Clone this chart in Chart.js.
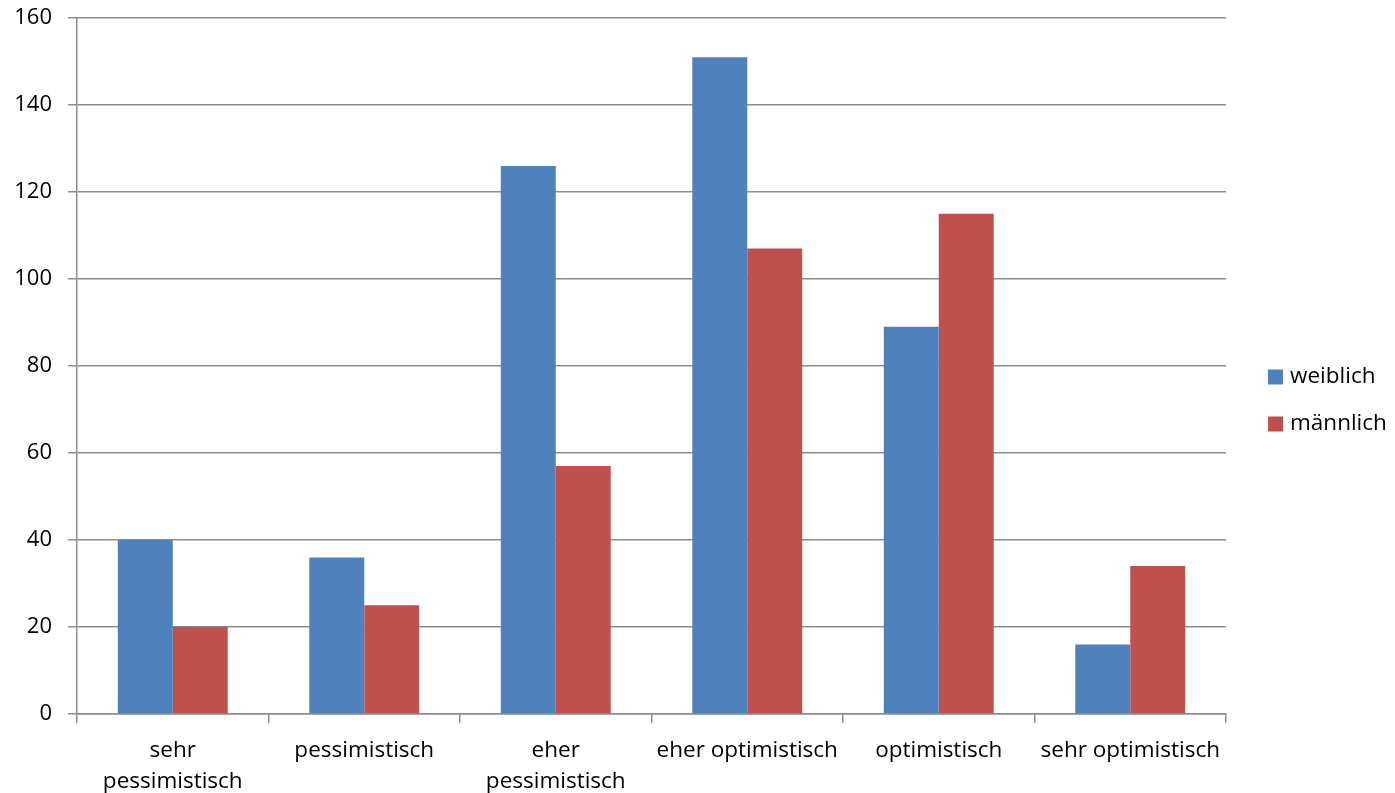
<!DOCTYPE html>
<html>
<head>
<meta charset="utf-8">
<script src="https://cdn.jsdelivr.net/npm/chart.js@4/dist/chart.umd.min.js"></script>
<style>
  html, body { margin: 0; padding: 0; background: #fff; }
  #wrap { width: 1395px; height: 793px; }
</style>
</head>
<body>
<div id="wrap"><canvas id="c" width="1395" height="793"></canvas></div>
<script>
const categories = [
  ["sehr", "pessimistisch"],
  "pessimistisch",
  ["eher", "pessimistisch"],
  "eher optimistisch",
  "optimistisch",
  "sehr optimistisch"
];
const seriesNames = ["weiblich", "männlich"];
const weiblich = [40, 36, 126, 151, 89, 16];
const maennlich = [20, 25, 57, 107, 115, 34];
const yTicks = [0, 20, 40, 60, 80, 100, 120, 140, 160];

const FONT = "'Open Sans', 'Liberation Sans', sans-serif";
const GRID = "#8c8c8c";

// legend drawn at the right of the plot, one square + label per series
const sideLegend = {
  id: "sideLegend",
  afterDraw(chart) {
    const ctx = chart.ctx;
    const ds = chart.data.datasets;
    const x0 = 1268, rowGap = 47;
    const yMid = 400;
    const yStart = yMid - (rowGap * (ds.length - 1)) / 2;
    ctx.save();
    ctx.font = "22.5px " + FONT;
    ctx.textBaseline = "middle";
    ds.forEach((d, i) => {
      const y = yStart + i * rowGap;
      ctx.fillStyle = d.backgroundColor;
      ctx.fillRect(x0, y - 7, 15, 15);
      ctx.fillStyle = "#000";
      ctx.fillText(d.label, x0 + 22, y);
    });
    ctx.restore();
  }
};

new Chart(document.getElementById("c"), {
  type: "bar",
  data: {
    labels: categories,
    datasets: [
      { label: seriesNames[0], data: weiblich, backgroundColor: "#4F81BD" },
      { label: seriesNames[1], data: maennlich, backgroundColor: "#C0504D" }
    ]
  },
  options: {
    responsive: false,
    animation: false,
    devicePixelRatio: 1,
    layout: { padding: { top: 0, right: 169, left: 0, bottom: 0 } },
    datasets: { bar: { categoryPercentage: 0.574, barPercentage: 1.0 } },
    plugins: { legend: { display: false }, tooltip: { enabled: false } },
    scales: {
      x: {
        offset: true,
        grid: { offset: true, drawOnChartArea: false, drawTicks: true, tickLength: 9, color: GRID, lineWidth: 1.5 },
        border: { color: GRID, width: 1.5 },
        ticks: { color: "#000", font: { family: FONT, size: 22.5, lineHeight: 1.38 }, padding: 12, maxRotation: 0, autoSkip: false },
        afterFit(scale) { scale.height = 79; }
      },
      y: {
        min: 0, max: 160,
        afterBuildTicks(scale) { scale.ticks = yTicks.map(v => ({ value: v })); },
        grid: { color: GRID, lineWidth: 1.5, tickLength: 9 },
        border: { color: GRID, width: 1.5 },
        ticks: { color: "#000", font: { family: FONT, size: 22 }, padding: 16 },
        afterFit(scale) { scale.width = 77; scale.paddingTop = 18; }
      }
    }
  },
  plugins: [sideLegend]
});
</script>
</body>
</html>
